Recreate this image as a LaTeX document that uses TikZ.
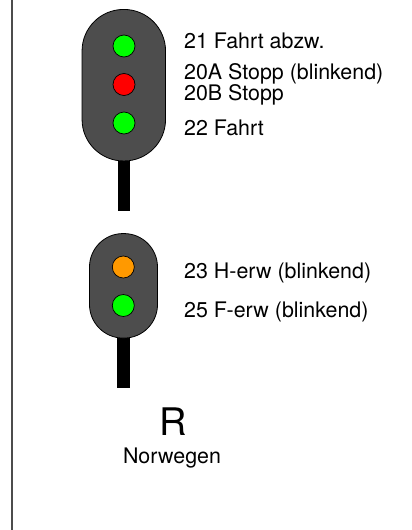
\documentclass[tikz,border=0pt]{standalone}
\usepackage{fontspec}
\setmainfont{TeX Gyre Heros}
\usepackage{tikz}
\usetikzlibrary{positioning}
\definecolor{housing}{RGB}{77,77,77}
\definecolor{signalgreen}{RGB}{0,255,0}
\definecolor{signalred}{RGB}{255,0,0}
\definecolor{signalorange}{RGB}{255,153,0}
\begin{document}
\begin{tikzpicture}[x=1pt,y=-1pt,node distance=38.5pt,
            head node/.style={draw=black,fill=housing,line width=0.8pt,rectangle,inner sep=0pt},
            lamp node/.style={circle,draw=black,line width=0.7pt,minimum size=22pt,inner sep=0pt},
            post node/.style={fill=black,rectangle,inner sep=0pt,minimum width=12.5pt,minimum height=50pt},
            label node/.style={anchor=base west,inner sep=0pt,font=\fontsize{21.4pt}{24pt}\selectfont}]

    \useasboundingbox (0,0) rectangle (412,530);
    \coordinate (top) at (12,0);
    \coordinate (bottom) at (12,530);
    \draw[line width=1.3pt,black!70] (top) -- (bottom);

    % first signal
    \node[post node] (post1) at (124,186) {};
    \node[head node,minimum width=83.5pt,minimum height=151.5pt,rounded corners=41.5pt] (head1) at (123.8,85.2) {};
    \node[lamp node,fill=signalgreen] (21) at (124,46) {};
    \node[lamp node,fill=signalred] (20) [below of=21] {};
    \node[lamp node,fill=signalgreen] (22) [below of=20] {};

    \node[label node] (l21) at (184,48) {21 Fahrt abzw.};
    \node[label node] (l20a) at (184,79) {20A Stopp (blinkend)};
    \node[label node] (l20b) at (184,100.7) {20B Stopp};
    \node[label node] (l22) at (184,135.7) {22 Fahrt};

    % second signal
    \node[post node] (post2) at (123.7,363) {};
    \node[head node,minimum width=68pt,minimum height=104.5pt,rounded corners=33.5pt] (head2) at (123.5,285.8) {};
    \node[lamp node,fill=signalorange] (23) at (123.3,267) {};
    \node[lamp node,fill=signalgreen] (25) [below of=23] {};

    \node[label node] (l23) at (184,278) {23 H-erw (blinkend)};
    \node[label node] (l25) at (184,317) {25 F-erw (blinkend)};

    \node[inner sep=0pt,anchor=base,font=\fontsize{38pt}{40pt}\selectfont] (land) at (173.5,435.7) {R};
    \node[inner sep=0pt,anchor=base,font=\fontsize{21.4pt}{24pt}\selectfont] (name) at (172,463) {Norwegen};
\end{tikzpicture}
\end{document}
